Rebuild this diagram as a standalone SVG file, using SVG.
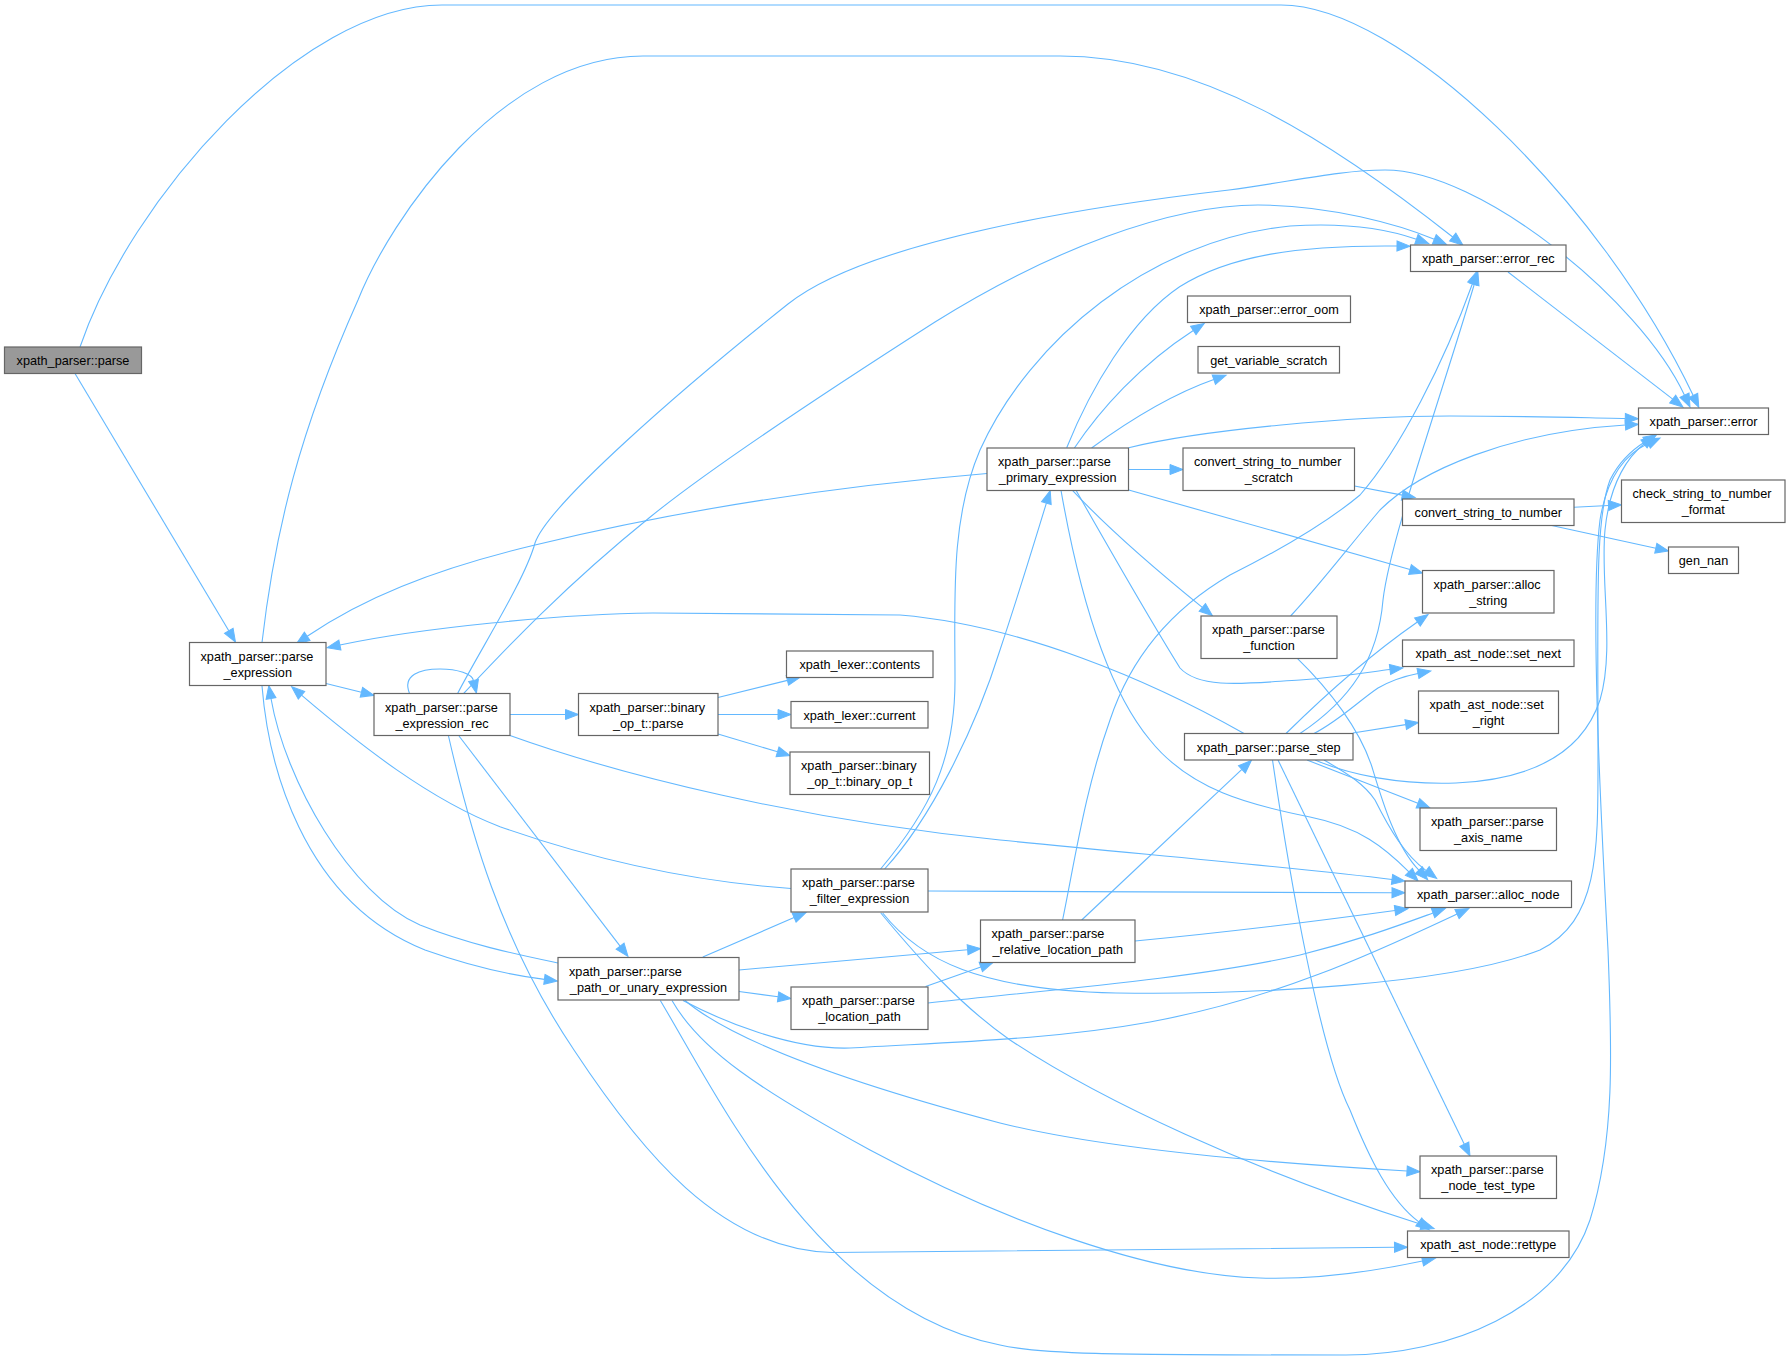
<svg xmlns="http://www.w3.org/2000/svg" width="1791" height="1362" viewBox="0 0 1791 1362">
<defs>
<style>
.node rect{fill:#ffffff;stroke:#666666;stroke-width:1.2}
.node.root rect{fill:#999999}
.node text{font-family:"Liberation Sans",Arial,Helvetica,sans-serif;font-size:12.7px;fill:#000000}
.c{text-anchor:middle}
.l{text-anchor:start}
.e{fill:none;stroke:#63b8ff;stroke-width:1.1;marker-end:url(#arr)}
</style>
<marker id="arr" markerUnits="userSpaceOnUse" markerWidth="14" markerHeight="11" refX="0" refY="5" orient="auto" overflow="visible">
<path d="M0,0 L13,5 L0,10 z" fill="#63b8ff" stroke="#63b8ff" stroke-width="1"/>
</marker>
</defs>
<rect x="0" y="0" width="1791" height="1362" fill="#ffffff"/>
<g id="edges">
<path class="e" d="M80,347 C130,200 300,5 442,5 L1281,5 C1400,5 1600,200 1693.2,395.5"/>
<path class="e" d="M457.6,693.5 C480,650 525,580 535,543 C548,505 680,390 788,304 C870,239 1100,205 1229,190 C1290,182 1340,170 1385,170 C1480,170 1640,300 1684.5,395.2"/>
<path class="e" d="M463.7,693.5 C500,655 560,590 649,518 C720,460 860,370 935,322 C1050,250 1170,205 1258,205 C1330,205 1400,225 1434.3,239.3"/>
<path class="e" d="M75,373.5 L228.8,630.8"/>
<path class="e" d="M262,642.5 C275,530 300,430 358,300 C390,220 500,56 643,56 L1060,56 C1200,56 1330,140 1452.7,237"/>
<path class="e" d="M326,683.5 L361.4,692.2"/>
<path class="e" d="M409.5,693.5 C402,675 420,669 440,669 C458,669 472,674 473.5,680.5"/>
<path class="e" d="M510,714.5 L565.5,714.5"/>
<path class="e" d="M718,697.5 L787.4,680.4"/>
<path class="e" d="M718,714.5 L778,714.5"/>
<path class="e" d="M718,734 L777.5,751.8"/>
<path class="e" d="M459,736 L620.1,946.2"/>
<path class="e" d="M448.5,736 C470,830 500,940 574,1050 C640,1150 720,1250 832,1252.5 L1394.5,1247.3"/>
<path class="e" d="M510,735.5 C620,775 800,820 1000,840 C1150,855 1300,868 1392,879.5"/>
<path class="e" d="M262,686 C268,760 300,900 425,950 C470,966 510,975 544.4,979.4"/>
<path class="e" d="M558,963 C520,955 470,945 420,925 C350,895 285,780 271,698.5"/>
<path class="e" d="M791,888.5 C700,882 600,862 500,826.7 C430,800 360,745 301.5,695.2"/>
<path class="e" d="M987,473.5 C850,485 700,505 535,545 C430,570 360,600 307.2,636.3"/>
<path class="e" d="M1244,733.5 C1150,680 1020,625 900,615 L653,613 C560,614 420,628 339.9,645"/>
<path class="e" d="M702.8,957 L794.1,917.6"/>
<path class="e" d="M739,970 L967.6,949.7"/>
<path class="e" d="M739,991.5 L778.1,996.8"/>
<path class="e" d="M925.6,986.5 L980.8,966.9"/>
<path class="e" d="M928,1003 C1050,990 1200,978 1300,955 C1360,940 1400,925 1433,913"/>
<path class="e" d="M683,1000.5 C720,1020 790,1050 850,1048 C950,1042 1050,1040 1150,1022 C1280,998 1380,950 1457,914"/>
<path class="e" d="M685,1000.5 C720,1030 800,1070 1000,1123 C1100,1148 1250,1162 1407,1171"/>
<path class="e" d="M672,1000.5 C700,1050 760,1090 870,1150 C1000,1220 1150,1275 1260,1278 C1320,1280 1380,1270 1422.5,1261"/>
<path class="e" d="M660.3,1000.5 C720,1100 820,1310 1000,1345 C1040,1354 1100,1355 1346,1355 C1450,1355 1560,1310 1590,1220 C1615,1140 1612,1050 1608,950 C1600,800 1590,600 1600,520 C1608,470 1630,452 1648.2,443.6"/>
<path class="e" d="M882.7,913 C920,960 980,990 1116,993 C1250,995 1450,985 1540,950 C1600,920 1598,850 1598,750 C1598,600 1595,520 1610,480 C1620,460 1635,448 1645.5,441.5"/>
<path class="e" d="M1315,760 C1350,775 1400,785 1456,783 C1520,780 1580,760 1600,700 C1615,650 1600,580 1605,530 C1610,480 1630,455 1644,444"/>
<path class="e" d="M1290.6,616 C1320,585 1350,545 1380,510 C1420,470 1510,432 1625.4,425"/>
<path class="e" d="M1128.7,447.7 C1200,430 1350,416 1450,416 C1530,416 1590,418 1625.3,418.5"/>
<path class="e" d="M1508,272 L1672.7,399.1"/>
<path class="e" d="M1066.7,447.7 C1090,390 1130,320 1179.6,286.7 C1230,255 1300,245 1397,246"/>
<path class="e" d="M1074.4,448 C1100,410 1140,365 1193.3,330.5"/>
<path class="e" d="M1091.6,448 C1130,420 1170,395 1213.8,379.6"/>
<path class="e" d="M1128.7,469.5 L1170,469.5"/>
<path class="e" d="M1128.7,490 L1410,569.5"/>
<path class="e" d="M1072.5,490.3 C1100,520 1150,565 1202.3,607.4"/>
<path class="e" d="M1076,490.3 C1110,550 1150,620 1180,668 C1200,690 1250,683 1300,680 C1340,677 1370,672 1390,669.5"/>
<path class="e" d="M1061,490.3 C1075,570 1100,680 1150,740 C1190,790 1250,805 1310,817 C1360,827 1385,848 1408.9,871.8"/>
<path class="e" d="M884.6,869 C930,820 975,730 1000,650 C1020,590 1035,540 1046.4,503.1"/>
<path class="e" d="M880.6,869 C930,810 955,760 955,680 C955,600 950,520 980,450 C1030,340 1150,240 1290,226 C1350,222 1390,230 1416.4,239.2"/>
<path class="e" d="M1062.6,920 C1075,860 1085,790 1110,720 C1130,660 1170,610 1230,575 C1290,545 1330,520 1360,495 C1400,450 1445,360 1472.4,283.7"/>
<path class="e" d="M1081.7,920 L1241.9,769.4"/>
<path class="e" d="M1135,941 C1250,930 1340,918 1395,910.5"/>
<path class="e" d="M1297.3,658.3 C1330,690 1360,730 1372,767 C1382,800 1395,845 1418.8,870.2"/>
<path class="e" d="M1300,733.5 C1350,700 1378,660 1383,600 C1390,540 1440,400 1474.2,284.5"/>
<path class="e" d="M1286,733.5 C1320,700 1370,655 1417.4,622"/>
<path class="e" d="M1314,733.5 C1340,720 1360,700 1378,688 C1392,680 1405,676 1418,673.5"/>
<path class="e" d="M1352.8,733 L1405.7,724.6"/>
<path class="e" d="M1307,760 L1417.9,803.3"/>
<path class="e" d="M1324,760 C1350,775 1365,785 1375,800 C1390,830 1405,855 1426.2,870.6"/>
<path class="e" d="M1278,760 L1464.3,1144.3"/>
<path class="e" d="M1272.5,760 C1290,880 1320,1050 1350,1110 C1370,1160 1390,1200 1418.8,1221.9"/>
<path class="e" d="M928,891 L1392,892.8"/>
<path class="e" d="M880.8,913 C920,960 960,1005 1010,1040 C1100,1100 1250,1170 1421.7,1224.6"/>
<path class="e" d="M1354.5,486 L1402.3,495.1"/>
<path class="e" d="M1574,507.3 L1608.5,505.5"/>
<path class="e" d="M1551.7,525.5 L1655.8,548.2"/>
</g>
<g id="n_parse" class="node root"><rect x="4.5" y="347" width="137" height="26.5"/><text class="c" x="73" y="365">xpath_parser::parse</text></g>
<g id="n_parse_expression" class="node"><rect x="189.5" y="642.5" width="136.5" height="43"/><text class="l" x="200.5" y="660.5">xpath_parser::parse</text><text class="c" x="257.75" y="676.5">_expression</text></g>
<g id="n_parse_expression_rec" class="node"><rect x="374" y="693.5" width="136" height="42"/><text class="l" x="385" y="711.5">xpath_parser::parse</text><text class="c" x="442" y="727.5">_expression_rec</text></g>
<g id="n_binary_parse" class="node"><rect x="578.5" y="693.5" width="139.5" height="42"/><text class="l" x="589.5" y="711.5">xpath_parser::binary</text><text class="c" x="648.25" y="727.5">_op_t::parse</text></g>
<g id="n_path_or_unary" class="node"><rect x="558" y="957.5" width="181" height="42.5"/><text class="l" x="569" y="975.5">xpath_parser::parse</text><text class="c" x="648.5" y="991.5">_path_or_unary_expression</text></g>
<g id="n_contents" class="node"><rect x="786.5" y="651" width="146.5" height="26.5"/><text class="c" x="859.75" y="669">xpath_lexer::contents</text></g>
<g id="n_current" class="node"><rect x="791" y="701.5" width="137" height="26.5"/><text class="c" x="859.5" y="719.5">xpath_lexer::current</text></g>
<g id="n_binary_op_t" class="node"><rect x="790" y="752" width="139.5" height="42.5"/><text class="l" x="801" y="770">xpath_parser::binary</text><text class="c" x="859.75" y="786">_op_t::binary_op_t</text></g>
<g id="n_filter" class="node"><rect x="791" y="869" width="137" height="43"/><text class="l" x="802" y="887">xpath_parser::parse</text><text class="c" x="859.5" y="903">_filter_expression</text></g>
<g id="n_location_path" class="node"><rect x="791" y="987" width="137" height="42.5"/><text class="l" x="802" y="1005">xpath_parser::parse</text><text class="c" x="859.5" y="1021">_location_path</text></g>
<g id="n_primary" class="node"><rect x="987" y="448" width="141.5" height="42.5"/><text class="l" x="998" y="466">xpath_parser::parse</text><text class="c" x="1057.75" y="482">_primary_expression</text></g>
<g id="n_relative" class="node"><rect x="980.5" y="920" width="154.5" height="42.5"/><text class="l" x="991.5" y="938">xpath_parser::parse</text><text class="c" x="1057.75" y="954">_relative_location_path</text></g>
<g id="n_error_oom" class="node"><rect x="1187.5" y="296" width="163" height="26.5"/><text class="c" x="1269" y="314">xpath_parser::error_oom</text></g>
<g id="n_get_variable_scratch" class="node"><rect x="1198" y="346.5" width="141.5" height="26.5"/><text class="c" x="1268.75" y="364.5">get_variable_scratch</text></g>
<g id="n_convert_scratch" class="node"><rect x="1183" y="448" width="171.5" height="42.5"/><text class="l" x="1194" y="466">convert_string_to_number</text><text class="c" x="1268.75" y="482">_scratch</text></g>
<g id="n_parse_function" class="node"><rect x="1201" y="616" width="136" height="42.5"/><text class="l" x="1212" y="634">xpath_parser::parse</text><text class="c" x="1269" y="650">_function</text></g>
<g id="n_parse_step" class="node"><rect x="1184.5" y="733.5" width="168.5" height="26.5"/><text class="c" x="1268.75" y="751.5">xpath_parser::parse_step</text></g>
<g id="n_error_rec" class="node"><rect x="1410.5" y="245" width="155.5" height="26.5"/><text class="c" x="1488.25" y="263">xpath_parser::error_rec</text></g>
<g id="n_convert" class="node"><rect x="1402.5" y="499" width="171.5" height="26.5"/><text class="c" x="1488.25" y="517">convert_string_to_number</text></g>
<g id="n_alloc_string" class="node"><rect x="1422.5" y="570.5" width="131.5" height="42.5"/><text class="l" x="1433.5" y="588.5">xpath_parser::alloc</text><text class="c" x="1488.25" y="604.5">_string</text></g>
<g id="n_set_next" class="node"><rect x="1402.5" y="640" width="171.5" height="26.5"/><text class="c" x="1488.25" y="658">xpath_ast_node::set_next</text></g>
<g id="n_set_right" class="node"><rect x="1418.5" y="691" width="140" height="42.5"/><text class="l" x="1429.5" y="709">xpath_ast_node::set</text><text class="c" x="1488.5" y="725">_right</text></g>
<g id="n_axis_name" class="node"><rect x="1420" y="808" width="136.5" height="42.5"/><text class="l" x="1431" y="826">xpath_parser::parse</text><text class="c" x="1488.25" y="842">_axis_name</text></g>
<g id="n_alloc_node" class="node"><rect x="1405" y="881" width="166.5" height="26.5"/><text class="c" x="1488.25" y="899">xpath_parser::alloc_node</text></g>
<g id="n_node_test_type" class="node"><rect x="1420" y="1156" width="136.5" height="42.5"/><text class="l" x="1431" y="1174">xpath_parser::parse</text><text class="c" x="1488.25" y="1190">_node_test_type</text></g>
<g id="n_rettype" class="node"><rect x="1407.5" y="1231" width="161.5" height="26.5"/><text class="c" x="1488.25" y="1249">xpath_ast_node::rettype</text></g>
<g id="n_error" class="node"><rect x="1638.5" y="408" width="130" height="26.5"/><text class="c" x="1703.5" y="426">xpath_parser::error</text></g>
<g id="n_check" class="node"><rect x="1621.5" y="480" width="163.5" height="42.5"/><text class="l" x="1632.5" y="498">check_string_to_number</text><text class="c" x="1703.25" y="514">_format</text></g>
<g id="n_gen_nan" class="node"><rect x="1668.5" y="547" width="70" height="26.5"/><text class="c" x="1703.5" y="565">gen_nan</text></g>
</svg>
